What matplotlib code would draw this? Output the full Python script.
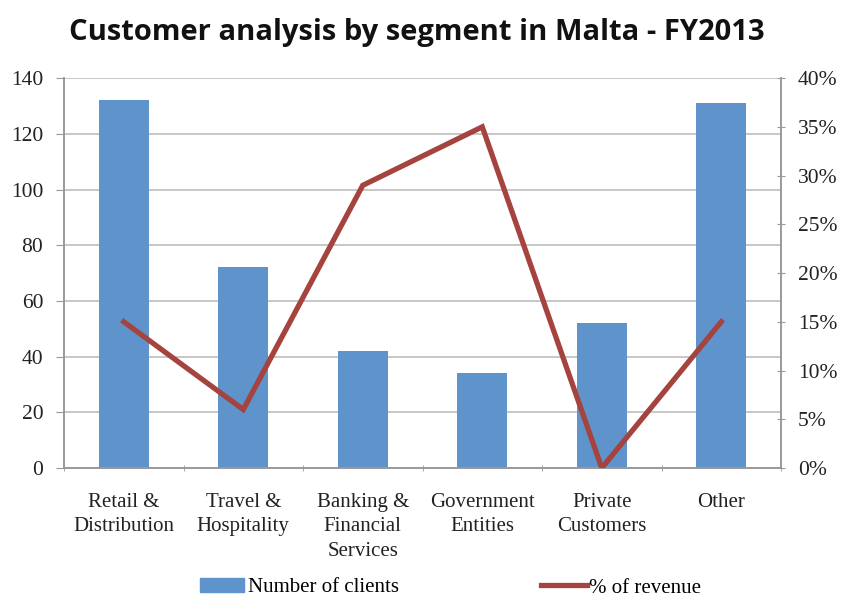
import numpy as np
import matplotlib.pyplot as plt
from matplotlib.ticker import FuncFormatter, MultipleLocator
from matplotlib.lines import Line2D
from matplotlib.patches import Patch

# data
segments = ['Retail &\nDistribution', 'Travel &\nHospitality', 'Banking &\nFinancial\nServices',
            'Government\nEntities', 'Private\nCustomers', 'Other']
clients = [132, 72, 42, 34, 52, 131]
revenue_pct = [15, 6, 29, 35, 0, 15]

bar_color = '#5f93cc'
line_color = '#a5433f'
grid_color = '#bdbdbd'
serif = 'Liberation Serif'

fig = plt.figure(figsize=(8.48, 6.01), dpi=100)
ax1 = fig.add_axes([0.0755, 0.2213, 0.8455, 0.6487])
x = np.arange(len(segments))

ax1.bar(x, clients, width=0.42, color=bar_color, zorder=2)
ax1.set_xlim(-0.5, len(segments) - 0.5)
ax1.set_ylim(0, 140)
ax1.yaxis.set_major_locator(MultipleLocator(20))
ax1.grid(True, axis='y', color=grid_color, linewidth=1.2, zorder=0)
ax1.set_axisbelow(True)
ax1.set_xticks(x)
ax1.set_xticklabels(segments, fontsize=15, family=serif, color='#222222', linespacing=1.38)
ax1.set_xticks(np.arange(len(segments) + 1) - 0.5, minor=True)
ax1.tick_params(axis='x', which='major', length=0, pad=18)
ax1.tick_params(axis='x', which='minor', length=5, direction='inout', color='#999999')
ax1.tick_params(axis='y', length=6, color='#999999', labelsize=15.5, pad=9)
for lbl in ax1.get_yticklabels():
    lbl.set_family(serif)
    lbl.set_color('#222222')

ax2 = ax1.twinx()
ax2.plot(x, revenue_pct, color=line_color, linewidth=3.8, solid_joinstyle='miter', zorder=3)
ax2.set_ylim(0, 40)
ax2.yaxis.set_major_locator(MultipleLocator(5))
ax2.yaxis.set_major_formatter(FuncFormatter(lambda v, p: '%d%%' % v))
ax2.tick_params(axis='y', length=6, direction='inout', color='#999999', labelsize=15.5, pad=9)
for lbl in ax2.get_yticklabels():
    lbl.set_family(serif)
    lbl.set_color('#222222')

for ax in (ax1, ax2):
    ax.spines['top'].set_visible(False)
    for s in ('left', 'right', 'bottom'):
        ax.spines[s].set_color('#999999')
        ax.spines[s].set_linewidth(1.2)

fig.suptitle('Customer analysis by segment in Malta - FY2013', x=0.492, y=0.97,
             fontsize=21, fontweight='bold', family='Open Sans', color='#111111')

leg_font = {'family': serif, 'size': 15}
fig.legend([Patch(color=bar_color)], ['Number of clients'], loc='center left',
           bbox_to_anchor=(0.236, 0.022), frameon=False, borderpad=0, borderaxespad=0,
           handlelength=2.1, handleheight=0.6, handletextpad=0.2, prop=leg_font)
fig.legend([Line2D([0], [0], color=line_color, linewidth=3.8)], ['% of revenue'], loc='center left',
           bbox_to_anchor=(0.638, 0.022), frameon=False, borderpad=0, borderaxespad=0,
           handlelength=2.2, handletextpad=0.1, prop=leg_font)

fig.savefig('out.png', dpi=100)
